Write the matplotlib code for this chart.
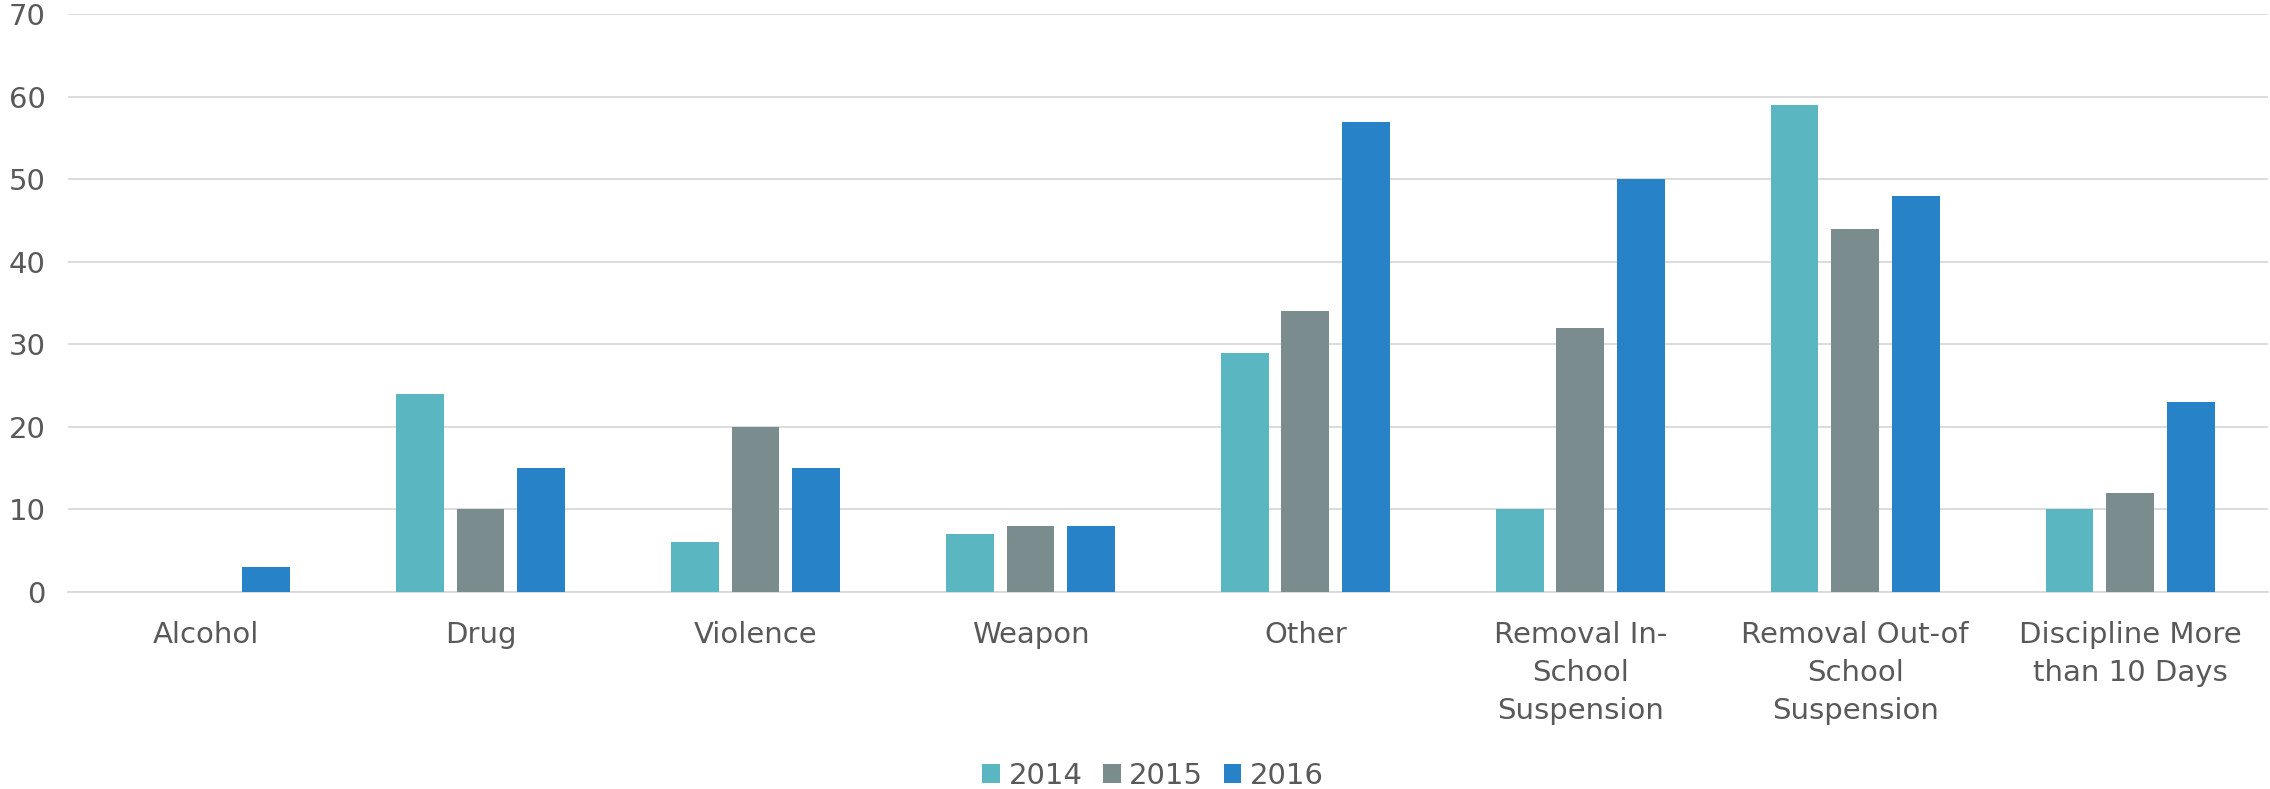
import matplotlib
matplotlib.use("Agg")
import matplotlib.pyplot as plt
import numpy as np

categories = ["Alcohol", "Drug", "Violence", "Weapon", "Other",
              "Removal In-\nSchool\nSuspension",
              "Removal Out-of\nSchool\nSuspension",
              "Discipline More\nthan 10 Days"]
years = ["2014", "2015", "2016"]
vals_2014 = [0, 24, 6, 7, 29, 10, 59, 10]
vals_2015 = [0, 10, 20, 8, 34, 32, 44, 12]
vals_2016 = [3, 15, 15, 8, 57, 50, 48, 23]
colors = ["#5ab6c0", "#7b8c8e", "#2882c8"]

text_color = "#595959"
plt.rcParams["font.family"] = ["DejaVu Sans"]

fig = plt.figure(figsize=(22.7, 7.89), dpi=100)
ax = fig.add_axes([0.030, 0.2497, 0.969, 0.732])

x = np.arange(len(categories))
width = 0.174
step = 0.221
for i, (vals, yr) in enumerate(zip([vals_2014, vals_2015, vals_2016], years)):
    ax.bar(x + (i - 1) * step, vals, width, color=colors[i], label=yr, zorder=3)

ax.set_xlim(-0.5, len(categories) - 0.5)
ax.set_ylim(0, 70)
ax.set_yticks(range(0, 71, 10))
ax.set_xticks(x)
ax.set_xticklabels(categories, fontsize=21, color=text_color, linespacing=1.45)
ax.tick_params(axis="y", labelsize=21, labelcolor=text_color, length=0, pad=16)
ax.tick_params(axis="x", length=0, pad=21)
ax.grid(axis="y", color="#d9d9d9", linewidth=1.3, zorder=0)
for s in ["top", "right", "left"]:
    ax.spines[s].set_visible(False)
ax.spines["bottom"].set_color("#d9d9d9")
ax.spines["bottom"].set_linewidth(1.3)

leg = fig.legend(loc="center", bbox_to_anchor=(0.508, 0.017), ncol=3, frameon=False,
                 fontsize=21, handlelength=0.6, handleheight=0.6, columnspacing=0.7,
                 handletextpad=0.3)
for t in leg.get_texts():
    t.set_color(text_color)

fig.savefig("out.png", dpi=100)
